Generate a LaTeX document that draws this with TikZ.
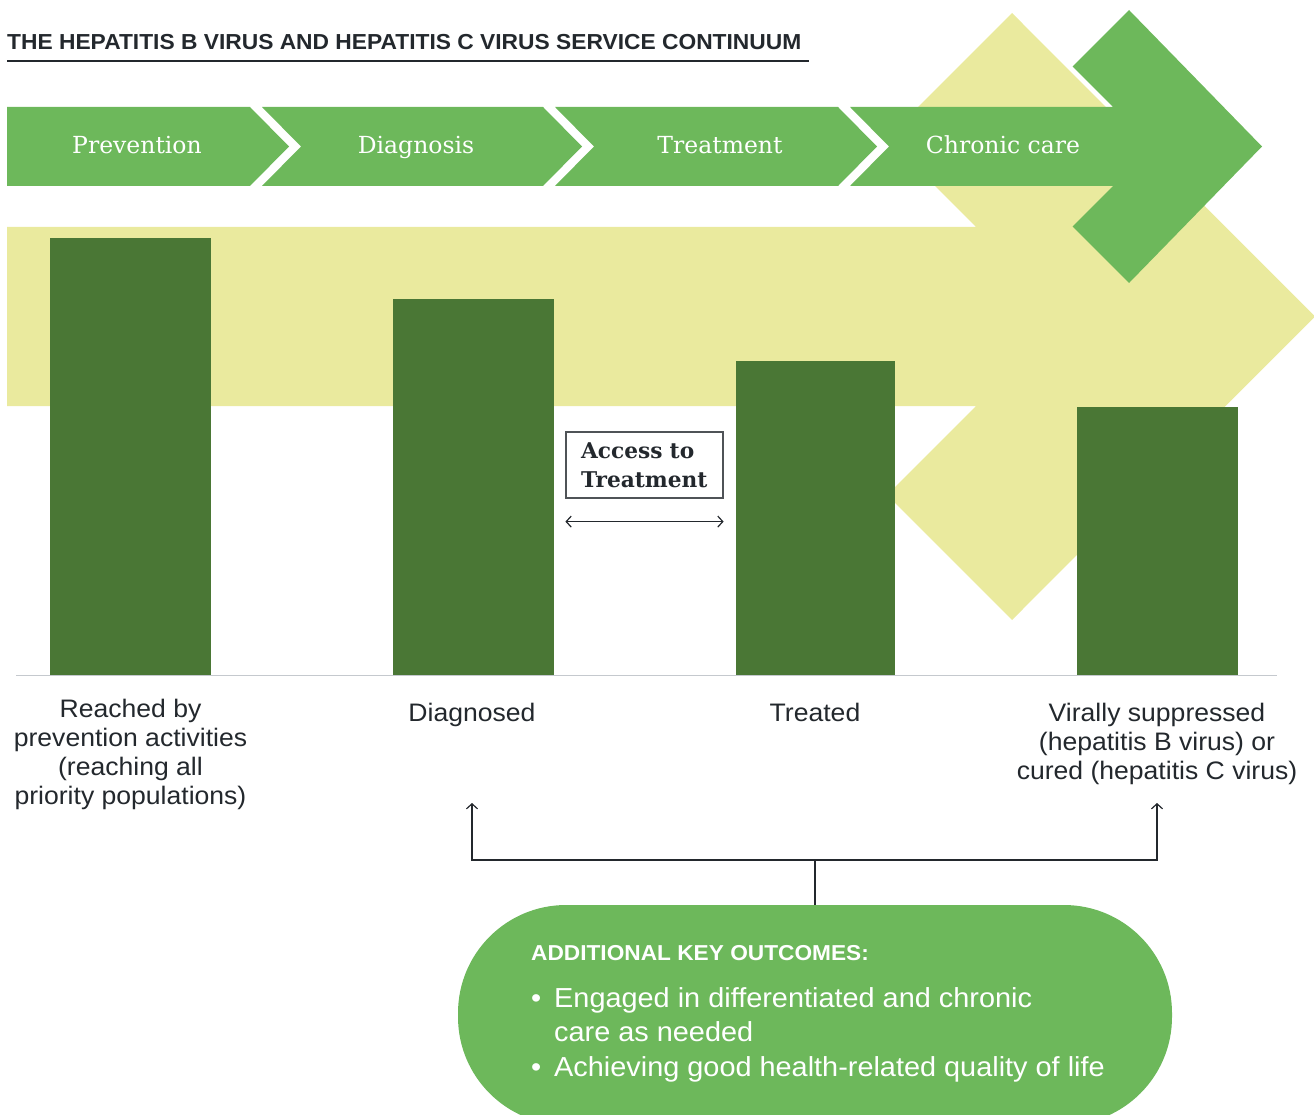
\documentclass[tikz,border=0pt]{standalone}
\usepackage{fontspec}
\usetikzlibrary{arrows.meta}
\setmainfont{DejaVu Serif}
\setsansfont{Liberation Sans}
\newfontfamily\widesans[FakeStretch=1.05]{Liberation Sans}
\definecolor{chainGreen}{HTML}{6DB85B}
\definecolor{paleYellow}{HTML}{EAEA9E}
\definecolor{barGreen}{HTML}{4A7735}
\definecolor{inkGray}{HTML}{23282D}
\definecolor{axisGray}{HTML}{C5C9CE}

\begin{document}
\begin{tikzpicture}[x=1pt, y=-1pt, >={Straight Barb[length=5pt, width=11pt]},
    every node/.style={inner sep=0pt},
    stage/.style={text=white, anchor=base, font=\fontsize{23.5}{28}\selectfont},
    outcome/.style={text=inkGray, align=center, anchor=north,
        font=\widesans\fontsize{25.3}{29}\selectfont},
    link/.style={draw=inkGray, line width=1.2pt},
    accessbox/.style={draw=inkGray!80, line width=1.2pt, text=inkGray,
        minimum width=157pt, minimum height=66pt, text width=127pt,
        inner xsep=15pt, align=left,
        font=\bfseries\fontsize{21.7}{29}\selectfont},
    pill/.style={fill=chainGreen, rounded corners=108pt,
        minimum width=714pt, minimum height=220pt}]
    \useasboundingbox (0, 0) rectangle (1314, 1115);
    \clip (0, 0) rectangle (1314, 1115);

    \node [anchor=base west, text=inkGray, font=\widesans\bfseries\fontsize{21.7}{24}\selectfont]
        (title) at (7, 50) {THE HEPATITIS B VIRUS AND HEPATITIS C VIRUS SERVICE CONTINUUM};
    \draw [inkGray, line width=1.3pt] (7, 61) -- (809, 61);

    \fill [paleYellow] (7, 227) -- (976, 227) -- (887, 138) -- (1012, 13)
        -- (1315, 316.5) -- (1012, 620) -- (887, 495) -- (976, 406) -- (7, 406) -- cycle;

    \fill [chainGreen] (7, 107) -- (250, 107) -- (289, 146.5) -- (250, 186) -- (7, 186) -- cycle;
    \foreach \l/\r in {262/543, 555/838} {
        \fill [chainGreen] (\l, 107) -- (\r, 107) -- (\r+39, 146.5) -- (\r, 186)
            -- (\l, 186) -- (\l+39, 146.5) -- cycle;
    }
    \fill [chainGreen] (850, 107) -- (1113, 107) -- (1072.5, 66.5) -- (1129, 10)
        -- (1262, 146.5) -- (1129, 283) -- (1072.5, 226.5) -- (1113, 186)
        -- (850, 186) -- (889, 146.5) -- cycle;
    \node [stage] (prevention) at (137, 154) {Prevention};
    \node [stage] (diagnosis) at (416, 154) {Diagnosis};
    \node [stage] (treatment) at (720, 154) {Treatment};
    \node [stage] (chronic) at (1003, 154) {Chronic care};

    \foreach \x/\t/\w in {50/238/161, 393/299/161, 736/361/159, 1077/407/161} {
        \fill [barGreen] (\x, \t) rectangle (\x+\w, 675);
    }
    \draw [axisGray, line width=1pt] (16, 675.5) -- (1277, 675.5);

    \node [accessbox] (access) at (644.5, 465) {Access to\\Treatment};
    \draw [link, <->] ([yshift=-23pt]access.south west) -- ([yshift=-23pt]access.south east);

    \node [outcome] (lblReached) at (130.5, 699) {Reached by\\prevention activities\\(reaching all\\priority populations)};
    \node [outcome] (lblDiagnosed) at (472, 703) {Diagnosed};
    \node [outcome] (lblTreated) at (815, 703) {Treated};
    \node [outcome] (lblSuppressed) at (1157, 703) {Virally suppressed\\(hepatitis B virus) or\\cured (hepatitis C virus)};

    \node [pill] (outcomes) at (815, 1015) {};
    \coordinate (fork) at (815, 860);
    \coordinate (tipDiagnosed) at (lblDiagnosed.south |- 0, 803);
    \coordinate (tipSuppressed) at (lblSuppressed.south |- 0, 803);
    \draw [link] (outcomes.north) -- (fork);
    \draw [link, ->] (fork) -| (tipDiagnosed);
    \draw [link, ->] (fork) -| (tipSuppressed);

    \node [anchor=base west, text=white, font=\widesans\bfseries\fontsize{21.6}{26}\selectfont]
        (outcomesHead) at (531, 960) {ADDITIONAL KEY OUTCOMES:};
    \node [anchor=base west, text=white, align=left, font=\widesans\fontsize{27.5}{34.5}\selectfont]
        (outcomesList) at (531, 1076)
        {\makebox[23pt][l]{\textbullet}Engaged in differentiated and chronic\\
         \hspace*{23pt}care as needed\\
         \makebox[23pt][l]{\textbullet}Achieving good health-related quality of life};
\end{tikzpicture}
\end{document}
